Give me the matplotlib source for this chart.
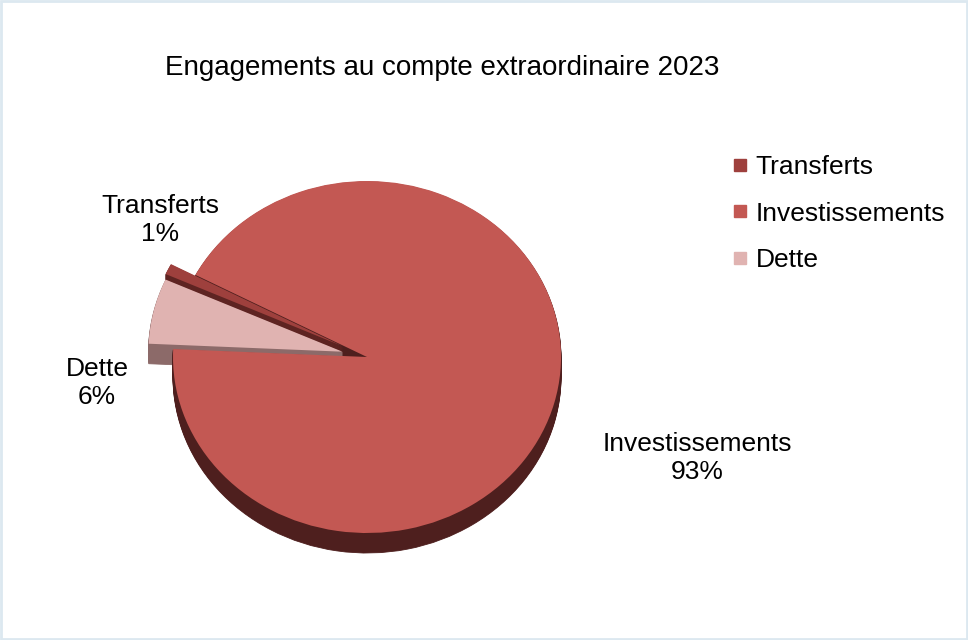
import matplotlib
matplotlib.use("Agg")
import matplotlib.pyplot as plt
from matplotlib.patches import Rectangle
from matplotlib.lines import Line2D

# Chart data
categories = ["Transferts", "Investissements", "Dette"]
shares = [1, 93, 6]
explode = [0.14, 0.0, 0.13]
top_colors = ["#9E403D", "#C35853", "#E0B3B1"]
side_colors = ["#5E2422", "#4E1F1E", "#8C6A69"]
title = "Engagements au compte extraordinaire 2023"

plt.rcParams["font.family"] = ["Liberation Sans", "DejaVu Sans"]

W, H = 968, 640
fig = plt.figure(figsize=(W / 100, H / 100), dpi=100)
ax = fig.add_axes([0, 0, 1, 1])

# pie centre and radii in pixels (flattened ellipse gives the tilted look)
cx, cy, rx, ry = 367, 357, 194, 176
depth = 20
start = 155.8

# side walls: stack of darker copies shifted downwards
for k in range(depth, 0, -1):
    ax.pie(shares, explode=explode, colors=side_colors, startangle=start,
           counterclock=False, center=(0, -k / ry), radius=1,
           wedgeprops=dict(linewidth=0.6), frame=True)
    for w, c in zip(ax.patches[-3:], side_colors):
        w.set_edgecolor(c)

# top faces
ax.pie(shares, explode=explode, colors=top_colors, startangle=start,
       counterclock=False, center=(0, 0), radius=1,
       wedgeprops=dict(linewidth=0), frame=True)

ax.set_xlim(-cx / rx, (W - cx) / rx)
ax.set_ylim((cy - H) / ry, cy / ry)
ax.set_aspect("auto")
ax.axis("off")

# data labels
label_pos = {
    "Transferts": (160, 220),
    "Investissements": (697, 458),
    "Dette": (97, 383),
}
for name, val in zip(categories, shares):
    px, py = label_pos[name]
    ax.text((px - cx) / rx, (cy - py) / ry, f"{name}\n{val}%",
            ha="center", va="center", fontsize=19, color="#000000",
            linespacing=1.2)

# title
fig.text(442.5 / W, 1 - 68 / H, title, ha="center", va="center",
         fontsize=20, color="#000000")

# legend
handles = [Line2D([], [], marker="s", linestyle="none", markersize=8,
                  markerfacecolor=c, markeredgecolor=c) for c in top_colors]
fig.legend(handles, categories, loc="upper left",
           bbox_to_anchor=(733 / W, 1 - 155 / H), frameon=False,
           fontsize=19, handlelength=0.5, handletextpad=0.35,
           labelspacing=0.86, borderpad=0, borderaxespad=0)

# chart area border
fig.patches.append(Rectangle((0.001, 0.001), 0.998, 0.997,
                             transform=fig.transFigure, fill=False,
                             edgecolor="#DCE8F0", linewidth=2))

fig.savefig("out.png", dpi=100)
